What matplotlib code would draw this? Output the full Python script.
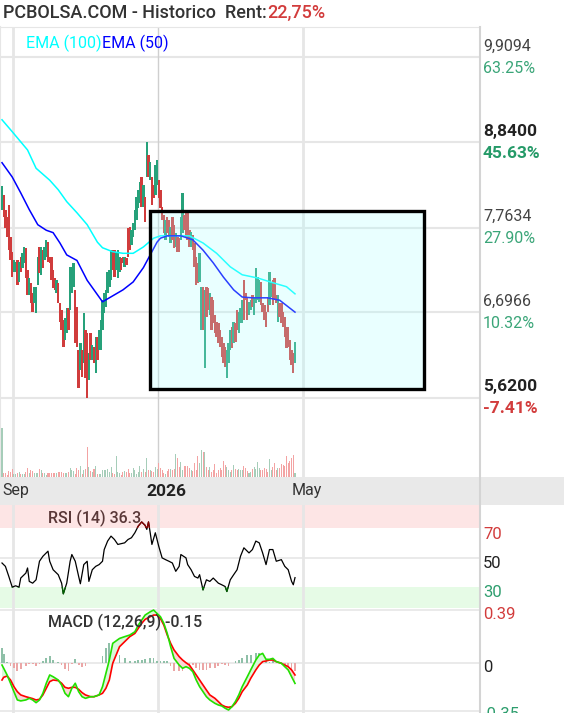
import numpy as np
import matplotlib
matplotlib.use("Agg")
import matplotlib.pyplot as plt
from matplotlib.patches import Rectangle
from matplotlib.lines import Line2D
from matplotlib import transforms

plt.rcParams['font.family'] = ['Roboto', 'DejaVu Sans']

W, H = 564, 713

# one candle per session, Aug 2025 -> Apr 2026
opens = [7.98, 8.17, 7.98, 7.90, 8.05, 7.65, 7.46, 7.21, 7.21, 7.36,
         7.08, 7.39, 7.26, 7.32, 7.51, 7.23, 6.92, 7.07, 6.94, 6.82,
         6.69, 7.04, 7.52, 7.17, 7.48, 7.36, 7.39, 7.58, 7.39, 7.39,
         7.23, 7.13, 6.94, 7.07, 6.82, 6.73, 6.60, 6.35, 6.44, 6.75,
         6.73, 6.94, 7.02, 6.98, 6.76, 6.22, 5.97, 6.22, 6.06, 6.48,
         6.44, 5.85, 6.44, 6.10, 6.26, 5.93, 6.39, 6.22, 6.22, 6.48,
         6.69, 6.76, 6.94, 7.02, 7.10, 7.48, 7.48, 7.23, 7.13, 7.21,
         7.38, 7.39, 7.27, 7.38, 7.76, 7.77, 7.54, 7.65, 7.73, 7.86,
         8.01, 8.07, 8.40, 8.02, 8.15, 8.40, 8.68, 8.36, 8.40, 8.30,
         8.17, 8.30, 8.36, 8.24, 8.02, 7.92, 7.61, 7.90, 7.86, 7.57,
         7.90, 7.80, 7.52, 7.65, 7.63, 7.61, 7.70, 7.92, 7.95, 7.95,
         7.73, 7.52, 7.67, 7.57, 7.39, 7.32, 7.08, 6.48, 7.02, 6.00,
         7.02, 7.00, 6.66, 6.89, 6.85, 6.66, 6.58, 6.56, 6.48, 6.39,
         6.31, 6.26, 5.87, 6.06, 6.22, 6.51, 6.31, 6.56, 6.73, 6.44,
         6.56, 6.56, 7.10, 6.94, 6.89, 6.66, 6.73, 6.92, 6.66, 6.82,
         6.85, 6.83, 7.08, 6.82, 6.79, 6.70, 6.89, 6.79, 6.89, 7.10,
         7.13, 6.92, 6.58, 6.82, 6.82, 6.70, 6.64, 6.51, 6.51, 6.35,
         6.22, 6.19, 6.06]
closes = [8.29, 7.90, 7.76, 7.65, 7.48, 7.36, 7.14, 7.36, 7.33, 7.04,
          7.33, 7.21, 7.44, 7.52, 7.13, 6.92, 7.13, 6.82, 6.70, 7.02,
          7.02, 7.39, 7.19, 7.52, 7.26, 7.52, 7.61, 7.33, 7.32, 7.10,
          7.00, 6.98, 7.10, 6.82, 6.58, 6.48, 6.26, 6.63, 6.75, 6.48,
          7.27, 7.27, 7.32, 6.31, 6.26, 5.75, 6.31, 5.88, 6.69, 5.87,
          5.62, 6.19, 6.10, 6.29, 6.06, 6.39, 6.10, 6.48, 6.60, 6.85,
          6.94, 6.98, 7.21, 7.23, 7.48, 7.23, 7.14, 7.44, 7.48, 7.39,
          7.23, 7.32, 7.39, 7.29, 7.39, 7.48, 7.73, 7.82, 7.98, 8.15,
          8.24, 8.34, 8.02, 8.30, 7.83, 8.84, 8.40, 8.59, 8.05, 8.14,
          8.55, 8.61, 8.14, 8.01, 7.86, 7.70, 7.86, 7.70, 7.65, 7.77,
          7.61, 7.51, 7.70, 7.46, 7.46, 7.90, 8.20, 7.73, 7.65, 7.61,
          7.52, 7.71, 7.48, 7.27, 7.04, 7.07, 7.44, 7.02, 6.48, 6.98,
          6.64, 6.73, 6.94, 6.48, 6.56, 6.44, 6.39, 6.31, 6.26, 6.14,
          6.06, 6.01, 6.22, 6.31, 6.48, 6.25, 6.58, 6.32, 6.48, 6.70,
          6.75, 6.85, 6.60, 6.85, 6.60, 6.83, 6.85, 6.76, 6.88, 7.26,
          7.14, 7.10, 6.79, 6.70, 6.60, 6.51, 6.70, 7.21, 7.07, 6.79,
          6.85, 6.82, 6.92, 6.64, 6.56, 6.51, 6.39, 6.25, 6.26, 6.10,
          6.04, 5.93, 6.32]
volume = [146, 11, 13, 6, 18, 16, 24, 9, 9, 13,
          15, 9, 8, 9, 15, 27, 13, 21, 19, 13,
          12, 13, 24, 21, 13, 13, 6, 11, 13, 13,
          13, 11, 11, 15, 15, 15, 11, 13, 13, 16,
          27, 20, 19, 9, 27, 21, 33, 9, 21, 25,
          91, 31, 19, 16, 24, 34, 9, 10, 9, 21,
          21, 21, 25, 16, 31, 11, 9, 64, 16, 13,
          5, 16, 19, 16, 25, 13, 13, 28, 22, 9,
          16, 33, 16, 24, 15, 58, 21, 21, 19, 16,
          30, 23, 43, 28, 20, 13, 9, 19, 23, 23,
          21, 24, 70, 58, 31, 45, 21, 33, 33, 33,
          28, 21, 18, 43, 21, 63, 43, 81, 76, 75,
          31, 21, 31, 16, 20, 40, 13, 21, 28, 21,
          49, 36, 31, 21, 16, 21, 36, 25, 21, 23,
          21, 21, 33, 26, 19, 13, 16, 23, 31, 24,
          46, 28, 21, 21, 28, 24, 16, 54, 21, 31,
          43, 21, 28, 28, 39, 35, 33, 63, 43, 48,
          58, 67, 13]

ema100_day = [0, 6, 15, 20, 28, 33, 38, 44, 50, 56, 59, 65, 71, 77, 83, 89, 93,
              100, 110, 118, 126, 134, 141, 150, 159, 167, 172]
ema100 = [9.12, 8.97, 8.74, 8.51, 8.36, 8.24, 8.09, 7.95, 7.80, 7.58, 7.51, 7.46,
          7.44, 7.44, 7.52, 7.63, 7.66, 7.66, 7.66, 7.57, 7.44, 7.27, 7.17, 7.13,
          7.07, 7.02, 6.93]
ema50_day = [0, 6, 11, 16, 21, 26, 30, 34, 38, 44, 50, 56, 59, 63, 71, 77, 83, 88,
             91, 93, 97, 105, 112, 118, 124, 130, 136, 141, 147, 156, 163, 172]
ema50 = [8.58, 8.40, 8.20, 7.99, 7.80, 7.73, 7.70, 7.57, 7.42, 7.35, 7.10, 6.92,
         6.83, 6.88, 6.98, 7.08, 7.26, 7.46, 7.58, 7.63, 7.66, 7.66, 7.61, 7.48,
         7.32, 7.14, 6.98, 6.89, 6.88, 6.88, 6.85, 6.70]

rsi_day = [0, 2, 4, 6, 8, 10, 11, 14, 15, 16, 18, 20, 22, 24, 27, 28, 30, 33, 35, 36,
           38, 40, 41, 43, 45, 46, 48, 50, 51, 53, 55, 57, 59, 60, 62, 64, 66, 68, 72, 74,
           76, 78, 80, 82, 84, 85, 86, 87, 88, 90, 92, 94, 96, 98, 100, 102, 104, 105, 108, 109,
           111, 113, 115, 116, 118, 120, 122, 124, 127, 129, 131, 132, 134, 136, 138, 140, 142, 145, 147, 149,
           151, 153, 155, 157, 159, 161, 164, 166, 168, 170, 171, 172]
rsi = [46.3, 44.0, 37.1, 29.8, 30.7, 29.8, 36.0, 39.4, 42.9, 33.7,
       32.5, 34.8, 47.5, 50.9, 54.4, 47.5, 41.7, 38.3, 32.5, 25.2,
       32.5, 47.5, 52.1, 47.5, 37.1, 32.1, 45.2, 47.5, 33.7, 41.7,
       44.0, 45.2, 47.5, 55.5, 61.3, 64.7, 62.4, 59.0, 60.1, 62.4,
       63.6, 67.0, 71.6, 74.4, 72.1, 69.3, 74.4, 67.0, 59.0, 67.0,
       57.8, 49.8, 48.6, 47.5, 46.3, 40.6, 44.0, 52.1, 49.8, 45.2,
       41.7, 37.1, 36.0, 38.3, 27.9, 34.8, 33.7, 36.0, 32.5, 31.4,
       30.2, 26.8, 34.8, 38.3, 41.7, 50.9, 56.7, 53.2, 55.5, 61.3,
       60.1, 53.2, 45.2, 55.5, 55.5, 47.5, 48.6, 44.0, 41.7, 33.7,
       31.4, 36.3]

macd_day = [0, 1, 3, 5, 7, 9, 11, 14, 16, 18, 20, 22, 24, 26, 28, 30, 33, 35, 37, 39,
            41, 43, 45, 47, 49, 52, 54, 57, 59, 61, 63, 65, 69, 72, 75, 78, 80, 82, 84, 87,
            89, 91, 93, 95, 97, 99, 101, 104, 106, 108, 110, 112, 114, 116, 118, 120, 122, 125, 127, 129,
            131, 133, 135, 137, 139, 141, 144, 146, 149, 151, 153, 155, 157, 159, 161, 164, 166, 168, 170, 172]
macd = [-0.015, -0.039, -0.088, -0.149, -0.211, -0.272, -0.279, -0.272, -0.260, -0.272,
        -0.292, -0.272, -0.223, -0.149, -0.088, -0.101, -0.125, -0.162, -0.223, -0.248,
        -0.186, -0.149, -0.211, -0.248, -0.260, -0.248, -0.248, -0.235, -0.174, -0.076,
        0.022, 0.145, 0.181, 0.194, 0.206, 0.230, 0.279, 0.316, 0.353, 0.377,
        0.390, 0.365, 0.341, 0.292, 0.218, 0.120, 0.034, -0.015, -0.039, -0.027,
        -0.039, -0.064, -0.125, -0.174, -0.211, -0.248, -0.272, -0.297, -0.309, -0.316,
        -0.333, -0.346, -0.321, -0.284, -0.235, -0.174, -0.101, -0.051, 0.022, 0.059,
        0.071, 0.027, 0.027, 0.034, 0.010, -0.002, -0.027, -0.051, -0.101, -0.150]
signal = [-0.125, -0.105, -0.096, -0.125, -0.174, -0.211, -0.235, -0.248, -0.255, -0.262,
          -0.272, -0.267, -0.235, -0.186, -0.137, -0.125, -0.130, -0.149, -0.179, -0.186,
          -0.179, -0.179, -0.194, -0.218, -0.235, -0.248, -0.248, -0.235, -0.223, -0.186,
          -0.125, -0.002, 0.120, 0.157, 0.194, 0.218, 0.255, 0.292, 0.321, 0.341,
          0.353, 0.353, 0.328, 0.279, 0.206, 0.145, 0.096, 0.047, 0.022, 0.002,
          -0.015, -0.051, -0.088, -0.125, -0.162, -0.199, -0.235, -0.260, -0.284, -0.309,
          -0.321, -0.326, -0.321, -0.297, -0.260, -0.211, -0.162, -0.113, -0.051, -0.015,
          0.010, 0.015, 0.022, 0.022, 0.010, -0.002, -0.015, -0.027, -0.051, -0.088]

price_levels = [9.9094, 8.84, 7.7634, 6.6966, 5.62]
price_labels = ['9,9094', '8,8400', '7,7634', '6,6966', '5,6200']
pct_labels = ['63.25%', '45.63%', '27.90%', '10.32%', '-7.41%']
strong = [False, True, False, False, True]

tick_days = [6.5, 91.5, 176.5]
tick_labels = ['Sep', '2026', 'May']

zone_days = (86.9, 247.7)
zone_prices = (5.733, 7.972)

title = 'PCBOLSA.COM - Historico  Rent:'
rent = '22,75%'
rsi_title = 'RSI (14) 36.3'
macd_title = 'MACD (12,26,9) -0.15'

# ---------------------------------------------------------------
fig = plt.figure(figsize=(W / 100, H / 100), dpi=100)


def box(l, t, r, b):
    return [l / W, 1 - b / H, (r - l) / W, (b - t) / H]


def shift(dx, dy):
    return transforms.ScaledTranslation(dx / 100, dy / 100, fig.dpi_scale_trans)


px_day = 1.7035
xlim = (-2 / px_day, 478 / px_day)
grid_c = '#e6e6e6'

# gray date band (behind everything)
band = Rectangle((0, 1 - 505 / H), 1, 28 / H, transform=fig.transFigure,
                 facecolor='#e9e9e9', edgecolor='none', zorder=-5)
fig.patches.append(band)

# ---- main price panel
ax = fig.add_axes(box(0, 27, 480, 477))
ax.set_xlim(*xlim)
ax.set_ylim(4.626, 10.287)
for s in ax.spines.values():
    s.set_visible(False)
ax.spines['top'].set_visible(True)
ax.spines['top'].set_color(grid_c)
ax.spines['left'].set_visible(True)
ax.spines['left'].set_color(grid_c)
ax.spines['left'].set_linewidth(1.5)
ax.set_xticks([])
ax.set_yticks([])

for lv in price_levels:
    ax.axhline(lv, color=grid_c, lw=1.5, zorder=1)
for d, lb in zip(tick_days, tick_labels):
    if lb.isdigit():
        ax.axvline(d, color='#cfcfcf', lw=1.0, zorder=1)
    else:
        ax.axvline(d, color=grid_c, lw=2.0, zorder=1)

o = np.array(opens)
c = np.array(closes)
days = np.arange(len(c))
up = c >= o
ax.bar(days, c - o, bottom=o, width=1.4, color=np.where(up, '#26a17a', '#d03c3c'),
       linewidth=0, zorder=3)

ax.plot(ema100_day, ema100, color='#00ffff', lw=1.1, zorder=4)
ax.plot(ema50_day, ema50, color='#0000ff', lw=1.1, zorder=4)

ax.add_patch(Rectangle((zone_days[0], zone_prices[0]), zone_days[1] - zone_days[0],
                       zone_prices[1] - zone_prices[0], facecolor=(170 / 255, 1, 1),
                       alpha=0.25, edgecolor='none', zorder=5))
ax.add_patch(Rectangle((zone_days[0], zone_prices[0]), zone_days[1] - zone_days[0],
                       zone_prices[1] - zone_prices[0], fill=False, edgecolor='black',
                       lw=2.4, zorder=6))

ytr = ax.get_yaxis_transform()
for lv, pl, pc, st in zip(price_levels, price_labels, pct_labels, strong):
    pcol = '#d23c3c' if pc.startswith('-') else ('#259a68' if st else '#3aa578')
    ax.text(1.0, lv, pl, transform=ytr + shift(3, 11), ha='left', va='center',
            fontsize=12.5 if st else 11.5, fontweight='bold' if st else 'normal',
            color='#222222' if st else '#444444', clip_on=False)
    ax.text(1.0, lv, pc, transform=ytr + shift(3, -11), ha='left', va='center',
            fontsize=12.5 if st else 11.5, fontweight='bold' if st else 'normal',
            color=pcol, clip_on=False)

xtr = transforms.blended_transform_factory(ax.transData, ax.transAxes)
for d, lb in zip(tick_days, tick_labels):
    ax.text(d, -14 / 450, lb, transform=xtr + shift(-11, 0), ha='left', va='center',
            fontsize=12.5 if lb.isdigit() else 11.5,
            fontweight='bold' if lb.isdigit() else 'normal',
            color='#222222' if lb.isdigit() else '#333333', clip_on=False, zorder=10)

# ---- volume
vax = fig.add_axes(box(0, 427, 480, 477))
vax.patch.set_visible(False)
vax.set_xlim(*xlim)
vax.set_ylim(0, 150)
vax.bar(days, volume, width=0.6, color=np.where(up, '#a6cdb9', '#f3a3a3'), linewidth=0)
vax.axis('off')

# ---- RSI panel
rax = fig.add_axes(box(0, 505, 480, 608))
rax.set_xlim(*xlim)
rax.set_ylim(15.5, 86)
for s in rax.spines.values():
    s.set_visible(False)
rax.set_xticks([])
rax.set_yticks([])
rax.axhspan(70, 100, color='#fde5e5', lw=0, zorder=0)
rax.axhspan(0, 30, color='#e6fbe6', lw=0, zorder=0)
rax.axhline(50, color=grid_c, lw=1.2, zorder=1)
for d in tick_days:
    rax.axvline(d, color=grid_c, lw=2.0, zorder=1)
rax.plot(rsi_day, rsi, color='black', lw=0.9, zorder=3)
hi = rax.plot(rsi_day, rsi, color='#8b0000', lw=0.9, zorder=4)[0]
hi.set_clip_path(Rectangle((xlim[0], 70), xlim[1] - xlim[0], 30, transform=rax.transData))
lo = rax.plot(rsi_day, rsi, color='#006400', lw=0.9, zorder=4)[0]
lo.set_clip_path(Rectangle((xlim[0], 0), xlim[1] - xlim[0], 30, transform=rax.transData))
rax.text(48 / 480, (608 - 518) / 103, rsi_title, transform=rax.transAxes, ha='left',
         va='center', fontsize=11.5, fontweight='medium', color='#5a3838', zorder=6)
rtr = rax.get_yaxis_transform()
for v, col in [(70, '#d23c3c'), (50, '#222222'), (30, '#2e9e6e')]:
    rax.text(1.0, v, str(v), transform=rtr + shift(3, -6), ha='left', va='center',
             fontsize=12, color=col, clip_on=False)

# ---- MACD panel
mx = fig.add_axes(box(0, 608, 480, 713))
mx.set_xlim(*xlim)
mx.set_ylim(-0.368, 0.405)
for s in mx.spines.values():
    s.set_visible(False)
mx.set_xticks([])
mx.set_yticks([])
for v in [0.39, 0, -0.35]:
    mx.axhline(v, color=grid_c, lw=1.2, zorder=1)
for d in tick_days:
    mx.axvline(d, color=grid_c, lw=2.0, zorder=1)
md = np.array(macd)
sg = np.array(signal)
hist = md - sg
mx.bar(macd_day, hist, width=1.0, color=np.where(hist >= 0, '#8fc0a8', '#eba6a6'),
       linewidth=0, zorder=2)
mx.fill_between(macd_day, md, sg, where=md >= sg, interpolate=True, color='#d9f8d9',
                lw=0, zorder=3)
mx.fill_between(macd_day, md, sg, where=md < sg, interpolate=True, color='#f9d6d6',
                lw=0, zorder=3)
mx.plot(macd_day, sg, color='#ff0000', lw=1.2, zorder=4)
mx.plot(macd_day, md, color='#22e000', lw=1.2, zorder=5)
mx.text(48 / 480, (713 - 622) / 105, macd_title, transform=mx.transAxes, ha='left',
        va='center', fontsize=11.5, fontweight='medium', color='#333333', zorder=6)
mtr = mx.get_yaxis_transform()
for v, lb, col in [(0.39, '0.39', '#d23c3c'), (0, '0', '#222222'), (-0.35, '-0.35', '#2e9e6e')]:
    mx.text(1.0, v, lb, transform=mtr + shift(3, -4), ha='left', va='center',
            fontsize=12, color=col, clip_on=False)

# right border of the chart area
fig.add_artist(Line2D([480 / W, 480 / W], [0, 1 - 27 / H], transform=fig.transFigure,
                      color='#d4d4d4', lw=1.5))

# ---- header texts
r = fig.canvas.get_renderer()
t1 = fig.text(3 / W, 1 - 13 / H, title, fontsize=13, fontweight='medium', color='#333333',
              va='center', ha='left')
bb = t1.get_window_extent(renderer=r)
fig.text(bb.x1 / W, 1 - 13 / H, rent, fontsize=13, fontweight='medium', color='#d23c3c',
         va='center', ha='left')
e1 = fig.text(26 / W, 1 - 43 / H, 'EMA (100)', fontsize=11.5, color='#00ffff',
              va='center', ha='left')
bb = e1.get_window_extent(renderer=r)
fig.text(bb.x1 / W, 1 - 43 / H, 'EMA (50)', fontsize=11.5, color='#0000ff',
         va='center', ha='left')

fig.savefig('out.png', dpi=100)
